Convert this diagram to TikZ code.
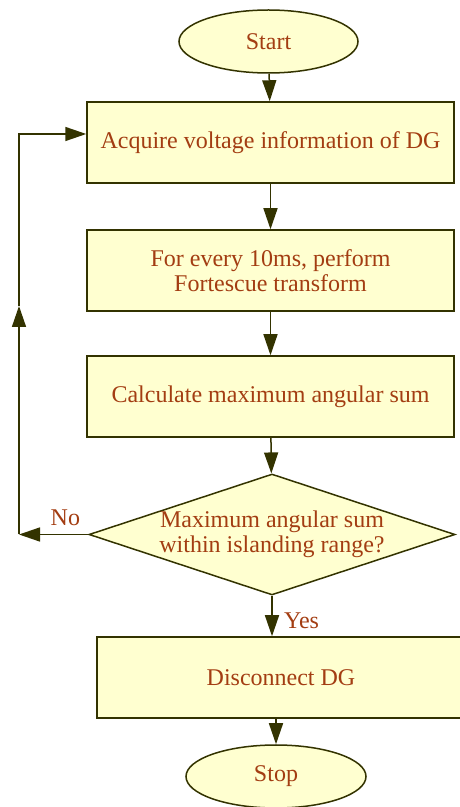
\documentclass[tikz,border=0pt]{standalone}
\usepackage{fontspec}
\setmainfont{Liberation Serif}
\usetikzlibrary{positioning,arrows.meta,shapes.geometric}
\definecolor{StepFill}{RGB}{255,255,208}
\definecolor{StepLine}{RGB}{51,51,0}
\definecolor{StepText}{RGB}{163,61,18}
\tikzset{
  flow/.style={-{Triangle[length=21pt,width=14pt]},line width=1.5pt,draw=StepLine},
  stepbox/.style={draw=StepLine,fill=StepFill,line width=1.5pt,
    minimum width=367pt,minimum height=81pt,align=center,
    text=StepText,font=\fontsize{24}{25}\selectfont},
  terminal/.style={ellipse,draw=StepLine,fill=StepFill,line width=1.5pt,
    minimum width=179pt,minimum height=63pt,inner sep=0pt,
    text=StepText,font=\fontsize{24}{25}\selectfont},
  decision/.style={diamond,aspect=3,inner sep=-12pt,draw=StepLine,fill=StepFill,
    minimum width=366pt,minimum height=121pt,
    line width=1.5pt,align=center,text=StepText,font=\fontsize{24}{25}\selectfont},
  branch/.style={text=StepText,font=\fontsize{24}{25}\selectfont}
}
\begin{document}
\begin{tikzpicture}
  \useasboundingbox (0,0) rectangle (459pt,807pt);
  \node[terminal] (start) at (268.5pt,765.5pt) {Start};
  \node[stepbox,below=27.5pt of start,xshift=2pt] (acquire) {Acquire voltage information of DG};
  \node[stepbox,below=45.5pt of acquire] (fortescue) {For every 10ms, perform\\Fortescue transform};
  \node[stepbox,below=43.5pt of fortescue] (angsum) {Calculate maximum angular sum};
  \node[decision,below=35.5pt of angsum,xshift=1.5pt] (check) {Maximum angular sum\\within islanding range?};
  \node[stepbox,below=40.5pt of check,xshift=9pt,minimum width=368pt] (disconnect) {Disconnect DG};
  \node[terminal,below=25.5pt of disconnect,xshift=-5pt,minimum width=180pt] (stop) {Stop};
  % loop back to the acquisition step
  \coordinate (loopx) at (19pt,0);
  \coordinate (loopcorner) at (check.west -| loopx);
  \coordinate (loopmid) at (19pt,501pt);
  \draw[flow] (start) -- (acquire);
  \draw[flow] (acquire) -- (fortescue);
  \draw[flow] (fortescue) -- (angsum);
  \draw[flow] (angsum) -- (check);
  \draw[flow] (check) -- node[branch,right=8pt,pos=0.62] {Yes} (check.south |- disconnect.north);
  \draw[flow] (stop.north |- disconnect.south) -- (stop);
  \draw[flow] (check.west) -- node[branch,above=5pt,pos=0.33] {No} (loopcorner);
  \draw[flow] (loopcorner) -- (loopmid);
  \draw[flow] (loopmid) |- ([yshift=8.5pt]acquire.west);
\end{tikzpicture}
\end{document}
